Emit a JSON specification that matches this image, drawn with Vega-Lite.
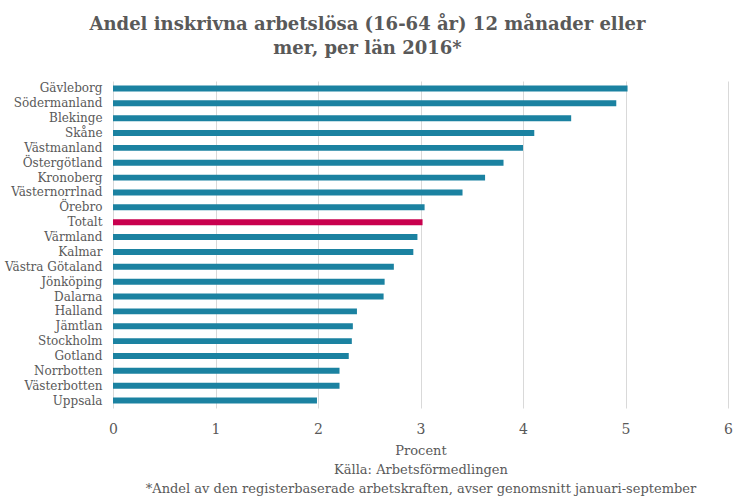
{
  "$schema": "https://vega.github.io/schema/vega-lite/v6.json",
  "autosize": "none",
  "width": 615,
  "height": 327,
  "padding": {"left": 113, "top": 81, "right": 7, "bottom": 88},
  "background": "white",
  "title": {
    "text": ["Andel inskrivna arbetslösa (16-64 år) 12 månader eller", "mer, per län 2016*"],
    "anchor": "middle",
    "frame": "group",
    "dx": -53,
    "offset": 23,
    "font": "DejaVu Serif",
    "fontSize": 18,
    "fontWeight": "bold",
    "color": "#595959",
    "lineHeight": 24
  },
  "config": {
    "view": {"stroke": null},
    "axis": {"labelFont": "DejaVu Serif", "titleFont": "DejaVu Serif", "labelColor": "#595959", "titleColor": "#595959"}
  },
  "data": {
    "values": [
      {"lan": "Gävleborg", "procent": 5.02, "typ": "lan"},
      {"lan": "Södermanland", "procent": 4.91, "typ": "lan"},
      {"lan": "Blekinge", "procent": 4.47, "typ": "lan"},
      {"lan": "Skåne", "procent": 4.11, "typ": "lan"},
      {"lan": "Västmanland", "procent": 4.0, "typ": "lan"},
      {"lan": "Östergötland", "procent": 3.81, "typ": "lan"},
      {"lan": "Kronoberg", "procent": 3.63, "typ": "lan"},
      {"lan": "Västernorrlnad", "procent": 3.41, "typ": "lan"},
      {"lan": "Örebro", "procent": 3.04, "typ": "lan"},
      {"lan": "Totalt", "procent": 3.02, "typ": "totalt"},
      {"lan": "Värmland", "procent": 2.97, "typ": "lan"},
      {"lan": "Kalmar", "procent": 2.93, "typ": "lan"},
      {"lan": "Västra Götaland", "procent": 2.74, "typ": "lan"},
      {"lan": "Jönköping", "procent": 2.65, "typ": "lan"},
      {"lan": "Dalarna", "procent": 2.64, "typ": "lan"},
      {"lan": "Halland", "procent": 2.38, "typ": "lan"},
      {"lan": "Jämtlan", "procent": 2.34, "typ": "lan"},
      {"lan": "Stockholm", "procent": 2.33, "typ": "lan"},
      {"lan": "Gotland", "procent": 2.3, "typ": "lan"},
      {"lan": "Norrbotten", "procent": 2.21, "typ": "lan"},
      {"lan": "Västerbotten", "procent": 2.21, "typ": "lan"},
      {"lan": "Uppsala", "procent": 1.99, "typ": "lan"}
    ]
  },
  "mark": {"type": "bar"},
  "encoding": {
    "y": {
      "field": "lan",
      "type": "nominal",
      "sort": null,
      "scale": {"paddingInner": 0.6, "paddingOuter": 0.3},
      "axis": {"title": null, "ticks": false, "domain": false, "labelFontSize": 12, "labelPadding": 11, "grid": false}
    },
    "x": {
      "field": "procent",
      "type": "quantitative",
      "scale": {"domain": [0, 6], "nice": false},
      "axis": {
        "values": [0, 1, 2, 3, 4, 5, 6],
        "format": "d",
        "labelFlush": false,
        "title": ["Procent", "Källa: Arbetsförmedlingen", "*Andel av den registerbaserade arbetskraften, avser genomsnitt januari-september"],
        "titleFontSize": 13,
        "titleFontWeight": "normal",
        "titleLineHeight": 19,
        "titlePadding": 8,
        "labelFontSize": 14,
        "labelPadding": 14,
        "ticks": false,
        "domain": false,
        "grid": true,
        "gridColor": "#d9d9d9",
        "gridWidth": 1
      }
    },
    "color": {
      "field": "typ",
      "type": "nominal",
      "scale": {"domain": ["lan", "totalt"], "range": ["#1b82a1", "#c8004e"]},
      "legend": null
    }
  }
}
